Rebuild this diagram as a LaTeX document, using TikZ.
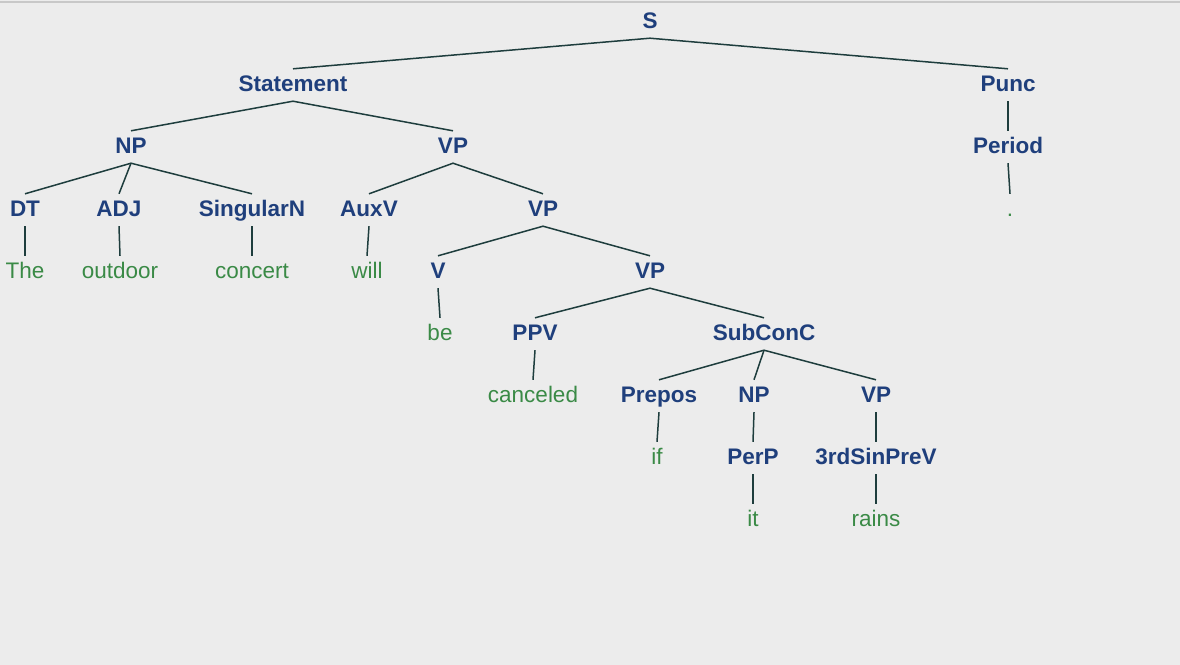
\documentclass[tikz,border=0pt]{standalone}
\usepackage{fontspec}
\setmainfont{Liberation Sans}
\usepackage{xcolor}
\usepackage{tikz}
\usetikzlibrary{arrows.meta,positioning}
\definecolor{canvas}{HTML}{ECECEC}
\definecolor{rule}{HTML}{C8C8C8}
\definecolor{catblue}{HTML}{1F3F7C}
\definecolor{wordgreen}{HTML}{3A8A46}
\definecolor{branch}{HTML}{1E3D3D}

\begin{document}
\begin{tikzpicture}[
  x=1pt,y=-1pt,
  font=\fontsize{22.5}{26}\selectfont,
  cat/.style={
    text=catblue,
    font=\fontsize{22.5}{26}\selectfont\bfseries,
    inner sep=0pt,
    text height=22pt,
    text depth=10pt,
    yshift=-2pt
  },
  word/.style={
    text=wordgreen,
    inner sep=0pt,
    text height=22pt,
    text depth=10pt,
    yshift=-2pt
  },
  edge/.style={draw=branch,line width=1.5pt}
]

% Canvas
\useasboundingbox (0,0) rectangle (1180,664);
\fill[canvas] (-3,-3) rectangle (1183,667);
\draw[rule,line width=1.5pt] (-3,2) -- (1183,2);

% 1. Top levels
\node[cat] (s) at (650,20) {S};
\node[cat] (statement) at (293,83) {Statement};
\node[cat] (punc) at (1008,83) {Punc};
\node[cat] (np1) at (131,145) {NP};
\node[cat] (vp1) at (453,145) {VP};
\node[cat] (period) at (1008,145) {Period};

% 2. Noun phrase and auxiliary
\node[cat] (dt) at (25,208) {DT};
\node[cat] (adj) at (119,208) {ADJ};
\node[cat] (singn) at (252,208) {SingularN};
\node[cat] (auxv) at (369,208) {AuxV};
\node[cat] (vp2) at (543,208) {VP};
\node[word] (dot) at (1010,208) {.};
\node[word] (the) at (25,270) {The};
\node[word] (outdoor) at (120,270) {outdoor};
\node[word] (concert) at (252,270) {concert};
\node[word] (will) at (367,270) {will};
\node[cat] (v) at (438,270) {V};
\node[cat] (vp3) at (650,270) {VP};

% 3. Inner verb phrase
\node[word] (be) at (440,332) {be};
\node[cat] (ppv) at (535,332) {PPV};
\node[cat] (subconc) at (764,332) {SubConC};
\node[word] (canceled) at (533,394) {canceled};
\node[cat] (prepos) at (659,394) {Prepos};
\node[cat] (np2) at (754,394) {NP};
\node[cat] (vp4) at (876,394) {VP};

% 4. Subordinate clause
\node[word] (if) at (657,456) {if};
\node[cat] (perp) at (753,456) {PerP};
\node[cat] (thirdsin) at (876,456) {3rdSinPreV};
\node[word] (it) at (753,518) {it};
\node[word] (rains) at (876,518) {rains};

% Connections
\draw[edge] (s.south) -- (statement.north);
\draw[edge] (s.south) -- (punc.north);
\draw[edge] (statement.south) -- (np1.north);
\draw[edge] (statement.south) -- (vp1.north);
\draw[edge] (punc.south) -- (period.north);
\draw[edge] (np1.south) -- (dt.north);
\draw[edge] (np1.south) -- (adj.north);
\draw[edge] (np1.south) -- (singn.north);
\draw[edge] (vp1.south) -- (auxv.north);
\draw[edge] (vp1.south) -- (vp2.north);
\draw[edge] (period.south) -- (dot.north);
\draw[edge] (dt.south) -- (the.north);
\draw[edge] (adj.south) -- (outdoor.north);
\draw[edge] (singn.south) -- (concert.north);
\draw[edge] (auxv.south) -- (will.north);
\draw[edge] (vp2.south) -- (v.north);
\draw[edge] (vp2.south) -- (vp3.north);
\draw[edge] (v.south) -- (be.north);
\draw[edge] (vp3.south) -- (ppv.north);
\draw[edge] (vp3.south) -- (subconc.north);
\draw[edge] (ppv.south) -- (canceled.north);
\draw[edge] (subconc.south) -- (prepos.north);
\draw[edge] (subconc.south) -- (np2.north);
\draw[edge] (subconc.south) -- (vp4.north);
\draw[edge] (prepos.south) -- (if.north);
\draw[edge] (np2.south) -- (perp.north);
\draw[edge] (vp4.south) -- (thirdsin.north);
\draw[edge] (perp.south) -- (it.north);
\draw[edge] (thirdsin.south) -- (rains.north);

\end{tikzpicture}
\end{document}
